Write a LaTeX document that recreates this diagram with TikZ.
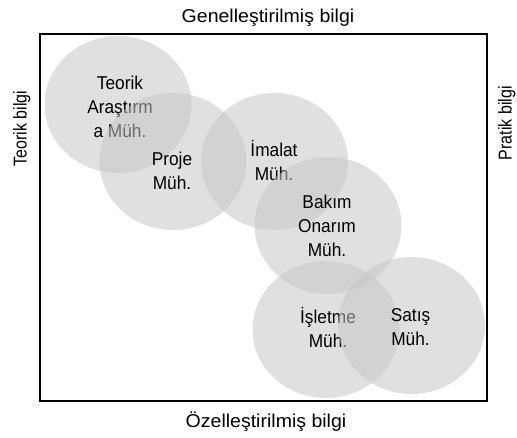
\documentclass[tikz,border=0pt]{standalone}
\usepackage{fontspec}
\setmainfont{Liberation Sans}
\newfontfamily\nodefont[FakeStretch=0.93]{Liberation Sans}
\newfontfamily\topfont[FakeStretch=1.05]{Liberation Sans}
\newfontfamily\sidefont[FakeStretch=0.86]{Liberation Sans}
\usetikzlibrary{shapes.geometric}
\definecolor{blobfill}{RGB}{198,198,198}
\begin{document}
\begin{tikzpicture}[x=1pt,y=-1pt,
  blob/.style={ellipse, fill=blobfill, fill opacity=0.55, draw=none, inner sep=0pt,
    minimum width=147pt, minimum height=137pt},
  lbl/.style={align=center, inner sep=0pt, text=black,
    font=\nodefont\fontsize{18.6}{24}\selectfont},
  toplbl/.style={inner sep=0pt, anchor=base, font=\topfont\fontsize{18.6}{22}\selectfont},
  sidelbl/.style={inner sep=0pt, anchor=base, rotate=90, font=\sidefont\fontsize{18.6}{22}\selectfont},
  frame/.style={draw=black, line width=2pt}]
\useasboundingbox (0,0) rectangle (517,438);
\draw[frame] (40,34) rectangle (486.5,401);
\node[toplbl] (gen) at (268,22.7) {Genelleştirilmiş bilgi};
\node[toplbl] (oz) at (266,428) {Özelleştirilmiş bilgi};
\node[sidelbl] (teo) at (26.7,128.5) {Teorik bilgi};
\node[sidelbl] (pra) at (511.6,123.3) {Pratik bilgi};
%
\node[blob] (c1) at (118,104.5) {};
\node[lbl] (t1) at (120,106.7) {Teorik\\Araştırm\\a Müh.};
\node[blob] (c2) at (173,161.5) {};
\node[lbl] (t2) at (172,171) {Proje\\Müh.};
\node[blob] (c3) at (274.5,161.5) {};
\node[lbl] (t3) at (274,160.9) {İmalat\\Müh.};
\node[blob] (c4) at (328,225.5) {};
\node[lbl] (t4) at (327,226) {Bakım\\Onarım\\Müh.};
\node[blob] (c5) at (326,329.5) {};
\node[lbl] (t5) at (328,327.2) {İşletme\\Müh.};
\node[blob] (c6) at (411.5,325.5) {};
\node[lbl] (t6) at (410.5,326.6) {Satış\\Müh.};
\end{tikzpicture}
\end{document}
